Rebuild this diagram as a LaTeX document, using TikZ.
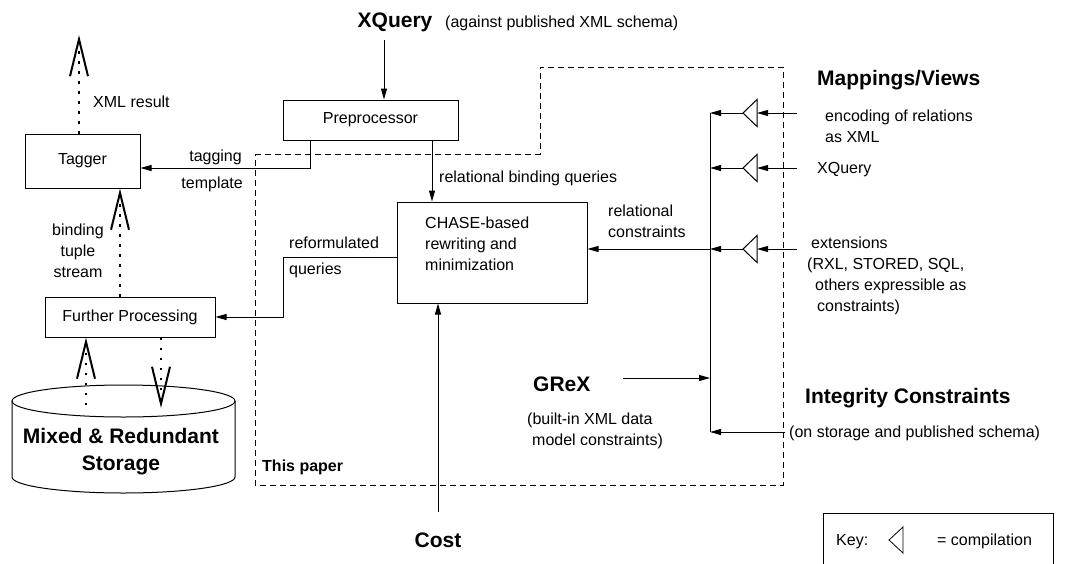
\documentclass[tikz,border=0pt]{standalone}
\usepackage{fontspec}
\setmainfont{Liberation Sans}
\usetikzlibrary{arrows.meta}
\begin{document}
\begin{tikzpicture}[x=1pt,y=-1pt,
  lbl/.style={font=\fontsize{16}{21}\selectfont, inner sep=0pt},
  ttl/.style={font=\fontsize{21}{24}\selectfont\bfseries, inner sep=0pt},
  box/.style={draw, line width=1pt, inner sep=0pt, font=\fontsize{16}{21}\selectfont},
  conn/.style={line width=1pt, -{Triangle[length=11pt,width=6pt]}},
  wire/.style={line width=1pt},
  dots/.style={line width=1.6pt, dash pattern=on 2.5pt off 7.5pt, -{Straight Barb[length=37pt,width=18pt,line width=2pt]}},
  region/.style={line width=1pt, dash pattern=on 6pt off 4pt},
  comp/.style={line width=1pt, fill=white}
]
\clip (0,0) rectangle (1065,563);
\fill[white] (0,0) rectangle (1065,563);

% dashed "This paper" region
\draw[region] (255,154) -- (540,154) -- (540,67) -- (783,67) -- (783,485) -- (255,485) -- cycle;
\node[lbl, font=\fontsize{16}{21}\selectfont\bfseries, anchor=west] (thispaper) at (262,467) {This paper};

% titles
\node[ttl, anchor=base] (xq) at (395,27.5) {XQuery};
\node[lbl, anchor=base west] (xqnote) at (445,27.5) {(against published XML schema)};

% boxes
\node[box, minimum width=175pt, minimum height=40pt] (pre) at (370.5,120) {Preprocessor};
\node[box, minimum width=115pt, minimum height=54pt] (tagger) at (82.5,161) {Tagger};
\node[box, minimum width=170pt, minimum height=40pt] (fp) at (130,317) {Further Processing};
\node[box, minimum width=190pt, minimum height=101pt] (chase) at (492,252.5) {};
\node[lbl, anchor=west, align=left] (chasetxt) at (425,244) {CHASE-based\\rewriting and\\minimization};

% storage cylinder
\draw[wire] (12,401) -- (12,477) arc[start angle=180, end angle=0, x radius=111.5, y radius=16] -- (235,401);
\draw[wire] (123.5,401) ellipse [x radius=111.5, y radius=16];
\node[ttl, font=\fontsize{21}{27}\selectfont\bfseries, align=center] (storage) at (121,451.5) {Mixed \& Redundant\\Storage};

% dotted data flows
\coordinate (xr) at (79,35);
\draw[dots] (tagger.north -| xr) -- (xr);
\node[lbl, anchor=west] (xmlres) at (93,102) {XML result};
\coordinate (bt) at (120,0);
\draw[dots] (fp.north -| bt) -- (tagger.south -| bt);
\node[lbl, align=center] (bts) at (78,251) {binding\\tuple\\stream};
\coordinate (sa) at (86,405);
\draw[dots] (sa) -- (sa |- fp.south);
\coordinate (sb) at (161,408);
\draw[dots] (sb |- fp.south) -- (sb);

% main connectors
\coordinate (xqa) at (384,40);
\draw[conn] (xqa) -- (xqa |- pre.north);
\coordinate (t1) at (310,168);
\draw[conn] (pre.south -| t1) -- (t1) -- (t1 -| tagger.east);
\node[lbl, anchor=base east] (tagging) at (242,161) {tagging};
\node[lbl, anchor=base east] (template) at (243,188) {template};
\coordinate (rb) at (432,0);
\draw[conn] (pre.south -| rb) -- (chase.north -| rb);
\node[lbl, anchor=base west] (rbq) at (439,182) {relational binding queries};
\coordinate (q1) at (283,257);
\coordinate (q2) at (283,317);
\draw[conn] (q1 -| chase.west) -- (q1) -- (q2) -- (q2 -| fp.east);
\node[lbl, anchor=base west] (reform) at (289,248) {reformulated};
\node[lbl, anchor=base west] (queries) at (289,274) {queries};
\coordinate (cst) at (438,512);
\draw[conn] (cst) -- (cst |- chase.south);
\node[ttl, anchor=base] (cost) at (438,547.5) {Cost};

% constraint bus
\coordinate (b1) at (710,113);
\coordinate (b2) at (710,168);
\coordinate (b3) at (710,249);
\coordinate (bg) at (710,378);
\coordinate (b4) at (710,432);
\draw[wire] (b1) -- (b4);
\foreach \n/\y in {1/113, 2/168, 3/249} {
  \coordinate (in\n) at (797,\y);
  \coordinate (cb\n) at (757,\y);
  \coordinate (ct\n) at (743,\y);
  \draw[conn] (in\n) -- (cb\n);
  \draw[comp] (ct\n) -- ++(14,-13.5) -- ++(0,27) -- cycle;
  \draw[conn] (ct\n) -- (b\n);
}
\draw[conn] (b3) -- (b3 -| chase.east);
\node[lbl, anchor=west, align=left] (relc) at (608,221) {relational\\constraints};

\coordinate (g1) at (623,378);
\draw[conn] (g1) -- (bg);
\node[ttl, anchor=west] (grex) at (533,384) {GReX};
\node[lbl, anchor=west, align=left] (grexnote) at (527,431) {(built-in XML data\\\hspace*{5pt}model constraints)};

\coordinate (ic) at (785,432);
\draw[conn] (ic) -- (b4);
\node[ttl, anchor=west] (integ) at (805,398) {Integrity Constraints};
\node[lbl, anchor=west] (integnote) at (789,433) {(on storage and published schema)};

\node[ttl, anchor=west] (mapv) at (817,80) {Mappings/Views};
\node[lbl, anchor=west, align=left] (enc) at (825,126.5) {encoding of relations\\as XML};
\node[lbl, anchor=west] (xqv) at (817,170) {XQuery};
\node[lbl, anchor=west, align=left] (ext) at (807,276) {\hspace*{4pt}extensions\\(RXL, STORED, SQL,\\\hspace*{8pt}others expressible as\\\hspace*{10pt}constraints)};

% key
\node[draw, line width=1pt, minimum width=230pt, minimum height=62pt, inner sep=0pt] (key) at (938,544) {};
\node[lbl, anchor=west] (keylbl) at (836,542) {Key:};
\draw[line width=0.8pt] (889,540) -- (903,527) -- (903,553) -- cycle;
\node[lbl, anchor=west] (keyeq) at (937,541) {= compilation};
\end{tikzpicture}
\end{document}
